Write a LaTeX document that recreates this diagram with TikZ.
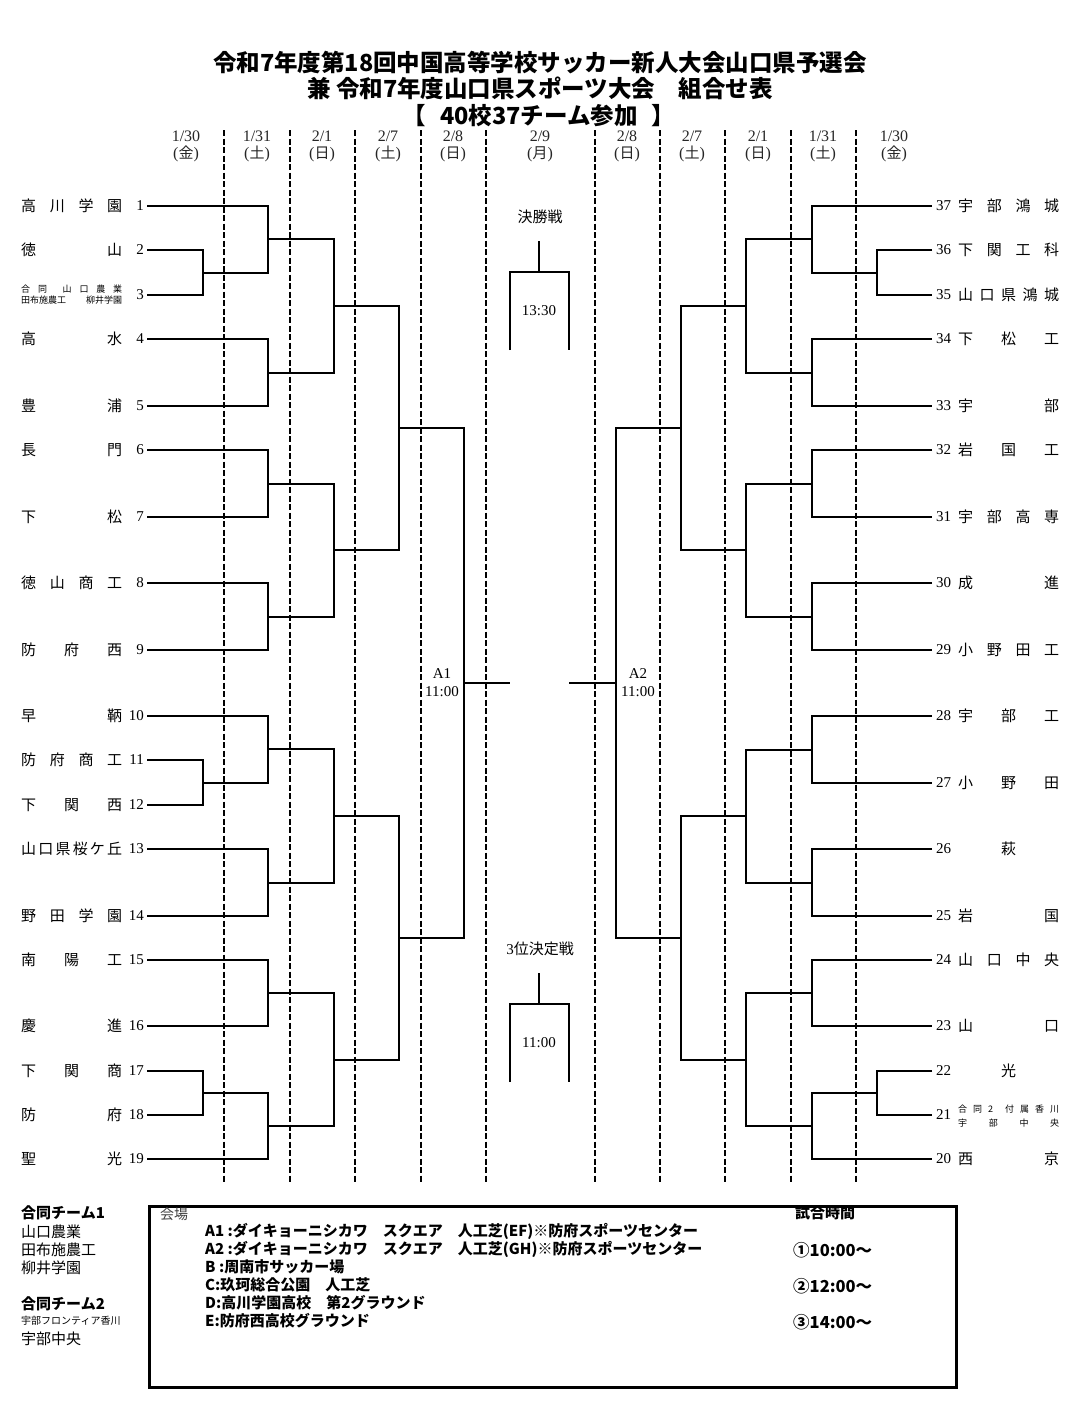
\documentclass[tikz,border=0pt]{standalone}
\usepackage{fontspec}
\setmainfont{Liberation Serif}
\newfontfamily\jp{Noto Sans CJK JP}
\newcommand\tmname[1]{\hbox to 101pt{#1}}
\begin{document}
\begin{tikzpicture}[x=1pt,y=-1pt,
  br/.style={line width=2pt},
  dsh/.style={line width=1.8pt, dash pattern=on 6pt off 2.5pt},
  lname/.style={anchor=west, inner sep=0pt, font=\jp\fontsize{15}{17}\selectfont},
  lnum/.style={anchor=east, inner sep=0pt, font=\fontsize{15}{17}\selectfont},
  rnum/.style={anchor=west, inner sep=0pt, font=\fontsize{15}{17}\selectfont},
  smalltxt/.style={anchor=west, inner sep=0pt, font=\jp\fontsize{9}{10}\selectfont},
  datet/.style={inner sep=0pt, text=black!85, font=\fontsize{16}{18}\selectfont},
  ttl/.style={inner sep=0pt, font=\jp\bfseries\fontsize{23.5}{25}\selectfont},
  lbl/.style={inner sep=0pt, font=\fontsize{15}{17}\selectfont},
  jlbl/.style={inner sep=0pt, font=\jp\fontsize{15}{17}\selectfont},
  nt/.style={anchor=west, inner sep=0pt, font=\jp\fontsize{15}{17}\selectfont},
  ntb/.style={anchor=west, inner sep=0pt, font=\jp\bfseries\fontsize{15}{17}\selectfont},
  tmt/.style={anchor=west, inner sep=0pt, font=\jp\bfseries\fontsize{16.5}{18}\selectfont},
  venue/.style={anchor=west, inner sep=0pt, font=\jp\bfseries\fontsize{15}{17}\selectfont}
]
\useasboundingbox (0,0) rectangle (1079,1424);
\fill[white] (0,0) rectangle (1079,1424);

% ---- title ----
\node[ttl] (ttlA) at (540,63) {令和7年度第18回中国高等学校サッカー新人大会山口県予選会};
\node[ttl] (ttlB) at (540,88) {兼 令和7年度山口県スポーツ大会　組合せ表};
\node[ttl] (ttlC) at (539,116) {【\hspace{14pt}40校37チーム参加\hspace{14pt}】};

% ---- dashed day separators ----
\foreach \x in {224,290,355,421,486,595,660,725,791,856}
  \draw[dsh] (\x,130) -- (\x,1183);

% ---- dates ----
\foreach \x/\d/\w [count=\i] in {186/1\slash 30/金, 257/1\slash 31/土, 322/2\slash 1/日, 388/2\slash 7/土, 453/2\slash 8/日, 540/2\slash 9/月, 627/2\slash 8/日, 692/2\slash 7/土, 758/2\slash 1/日, 823/1\slash 31/土, 894/1\slash 30/金}{
  \node[datet] (dt\i) at (\x,136) {\d};
  \node[datet] (dw\i) at (\x,154) {({\jp\fontsize{15}{17}\selectfont\w})};
}

% ---- left teams ----
\foreach \n/\y/\t in {1/206/{高\hfill 川\hfill 学\hfill 園}, 2/250/{徳\hfill 山}, 4/339/{高\hfill 水}, 5/406/{豊\hfill 浦}, 6/450/{長\hfill 門}, 7/517/{下\hfill 松}, 8/583/{徳\hfill 山\hfill 商\hfill 工}, 9/650/{防\hfill 府\hfill 西}, 10/716/{早\hfill 鞆}, 11/760/{防\hfill 府\hfill 商\hfill 工}, 12/805/{下\hfill 関\hfill 西}, 13/849/{山\hfill 口\hfill 県\hfill 桜\hfill ケ\hfill 丘}, 14/916/{野\hfill 田\hfill 学\hfill 園}, 15/960/{南\hfill 陽\hfill 工}, 16/1026/{慶\hfill 進}, 17/1071/{下\hfill 関\hfill 商}, 18/1115/{防\hfill 府}, 19/1159/{聖\hfill 光}}{
  \node[lname] (ln\n) at (21,\y) {\tmname{\t}};
}
\node[smalltxt] (ln3a) at (21,289) {\tmname{合\hfill 同\hfill\hfill 山\hfill 口\hfill 農\hfill 業}};
\node[smalltxt] (ln3b) at (21,300) {\tmname{田布施農工\hfill 柳井学園}};
\foreach \n/\y in {1/206,2/250,3/295,4/339,5/406,6/450,7/517,8/583,9/650,10/716,11/760,12/805,13/849,14/916,15/960,16/1026,17/1071,18/1115,19/1159}{
  \node[lnum] (lk\n) at (144,\y) {\n};
  \coordinate (t\n) at (147,\y);
}

% ---- right teams ----
\foreach \n/\y/\t in {37/206/{宇\hfill 部\hfill 鴻\hfill 城}, 36/250/{下\hfill 関\hfill 工\hfill 科}, 35/295/{山\hfill 口\hfill 県\hfill 鴻\hfill 城}, 34/339/{下\hfill 松\hfill 工}, 33/406/{宇\hfill 部}, 32/450/{岩\hfill 国\hfill 工}, 31/517/{宇\hfill 部\hfill 高\hfill 専}, 30/583/{成\hfill 進}, 29/650/{小\hfill 野\hfill 田\hfill 工}, 28/716/{宇\hfill 部\hfill 工}, 27/783/{小\hfill 野\hfill 田}, 26/849/{\hfill 萩\hfill}, 25/916/{岩\hfill 国}, 24/960/{山\hfill 口\hfill 中\hfill 央}, 23/1026/{山\hfill 口}, 22/1071/{\hfill 光\hfill}, 20/1159/{西\hfill 京}}{
  \node[lname] (rn\n) at (958,\y) {\tmname{\t}};
}
\node[smalltxt] (rn21a) at (958,1109) {\tmname{合\hfill 同\hfill 2\hfill\hfill 付\hfill 属\hfill 香\hfill 川}};
\node[smalltxt] (rn21b) at (958,1123) {\tmname{宇\hfill 部\hfill 中\hfill 央}};
\foreach \n/\y in {37/206,36/250,35/295,34/339,33/406,32/450,31/517,30/583,29/650,28/716,27/783,26/849,25/916,24/960,23/1026,22/1071,21/1115,20/1159}{
  \node[rnum] (rk\n) at (936,\y) {\n};
  \coordinate (t\n) at (932,\y);
}

% ---- left bracket ----
\coordinate (j23) at (203,272.5);
\coordinate (jA) at (268,239.25);
\coordinate (j45) at (268,372.5);
\coordinate (jB) at (334,305.9);
\coordinate (j67) at (268,483.5);
\coordinate (j89) at (268,616.5);
\coordinate (jC) at (334,550);
\coordinate (jD) at (399,428);
\coordinate (j1112) at (203,782.5);
\coordinate (jE) at (268,749.25);
\coordinate (j1314) at (268,882.5);
\coordinate (jF) at (334,815.9);
\coordinate (j1516) at (268,993);
\coordinate (j1718) at (203,1093);
\coordinate (jG) at (268,1126);
\coordinate (jH) at (334,1059.5);
\coordinate (jI) at (399,937.7);
\coordinate (jL) at (464,683);
\coordinate (fl) at (510,683);
\draw[br] (t2) -| (j23) |- (t3);
\draw[br] (t1) -| (jA) |- (j23);
\draw[br] (t4) -| (j45) |- (t5);
\draw[br] (jA) -| (jB) |- (j45);
\draw[br] (t6) -| (j67) |- (t7);
\draw[br] (t8) -| (j89) |- (t9);
\draw[br] (j67) -| (jC) |- (j89);
\draw[br] (jB) -| (jD) |- (jC);
\draw[br] (t11) -| (j1112) |- (t12);
\draw[br] (t10) -| (jE) |- (j1112);
\draw[br] (t13) -| (j1314) |- (t14);
\draw[br] (jE) -| (jF) |- (j1314);
\draw[br] (t15) -| (j1516) |- (t16);
\draw[br] (t17) -| (j1718) |- (t18);
\draw[br] (j1718) -| (jG) |- (t19);
\draw[br] (j1516) -| (jH) |- (jG);
\draw[br] (jF) -| (jI) |- (jH);
\draw[br] (jD) -| (jL) |- (jI);
\draw[br] (jL) -- (fl);

% ---- right bracket ----
\coordinate (r3635) at (877,272.5);
\coordinate (rA) at (812,239.25);
\coordinate (r3433) at (812,372.5);
\coordinate (rB) at (746,305.9);
\coordinate (r3231) at (812,483.5);
\coordinate (r3029) at (812,616.5);
\coordinate (rC) at (746,550);
\coordinate (rD) at (681,428);
\coordinate (r2827) at (812,749.5);
\coordinate (r2625) at (812,882.5);
\coordinate (rE) at (746,816);
\coordinate (r2423) at (812,993);
\coordinate (r2221) at (877,1093);
\coordinate (rG) at (812,1126);
\coordinate (rH) at (746,1059.5);
\coordinate (rI) at (681,937.7);
\coordinate (rL) at (616,683);
\coordinate (fr) at (569,683);
\draw[br] (t36) -| (r3635) |- (t35);
\draw[br] (t37) -| (rA) |- (r3635);
\draw[br] (t34) -| (r3433) |- (t33);
\draw[br] (rA) -| (rB) |- (r3433);
\draw[br] (t32) -| (r3231) |- (t31);
\draw[br] (t30) -| (r3029) |- (t29);
\draw[br] (r3231) -| (rC) |- (r3029);
\draw[br] (rB) -| (rD) |- (rC);
\draw[br] (t28) -| (r2827) |- (t27);
\draw[br] (t26) -| (r2625) |- (t25);
\draw[br] (r2827) -| (rE) |- (r2625);
\draw[br] (t24) -| (r2423) |- (t23);
\draw[br] (t22) -| (r2221) |- (t21);
\draw[br] (r2221) -| (rG) |- (t20);
\draw[br] (r2423) -| (rH) |- (rG);
\draw[br] (rE) -| (rI) |- (rH);
\draw[br] (rD) -| (rL) |- (rI);
\draw[br] (rL) -- (fr);

% ---- semi-final labels ----
\node[lbl] (a1n) at (442,674) {A1};
\node[lbl] (a1t) at (442,692) {11:00};
\node[lbl] (a2n) at (638,674) {A2};
\node[lbl] (a2t) at (638,692) {11:00};

% ---- final ----
\node[jlbl] (fin) at (540,217) {決勝戦};
\coordinate (fintop) at (539,241);
\coordinate (finmid) at (539,272);
\coordinate (finl) at (510,350);
\coordinate (finr) at (569,350);
\draw[br] (fintop) -- (finmid);
\draw[br] (finl) |- (finmid) -| (finr);
\node[lbl] (fint) at (539,311) {13:30};

% ---- third place ----
\node[jlbl] (thd) at (540,949) {{\fontspec{Liberation Serif}3}位決定戦};
\coordinate (thdtop) at (539,973);
\coordinate (thdmid) at (539,1004);
\coordinate (thdl) at (510,1082);
\coordinate (thdr) at (569,1082);
\draw[br] (thdtop) -- (thdmid);
\draw[br] (thdl) |- (thdmid) -| (thdr);
\node[lbl] (thdt) at (539,1043) {11:00};

% ---- notes ----
\node[ntb] (g1) at (21,1213) {合同チーム1};
\node[nt] (g1a) at (21,1232) {山口農業};
\node[nt] (g1b) at (21,1250) {田布施農工};
\node[nt] (g1c) at (21,1268) {柳井学園};
\node[ntb] (g2) at (21,1304) {合同チーム2};
\node[smalltxt, font=\jp\fontsize{10}{11}\selectfont] (g2a) at (21,1321) {宇部フロンティア香川};
\node[nt] (g2b) at (21,1339) {宇部中央};

% ---- venue box ----
\node[draw, line width=3pt, minimum width=807pt, minimum height=181pt, inner sep=0pt, anchor=north west] (vbox) at (148,1205) {};
\node[nt, text=black!75, font=\jp\fontsize{14}{16}\selectfont] (kaijo) at (160,1214) {会場};
\node[venue] (v1) at (205,1231) {A1 :ダイキョーニシカワ　スクエア　人工芝(EF)※防府スポーツセンター};
\node[venue] (v2) at (205,1249) {A2 :ダイキョーニシカワ　スクエア　人工芝(GH)※防府スポーツセンター};
\node[venue] (v3) at (205,1267) {B :周南市サッカー場};
\node[venue] (v4) at (205,1285) {C:玖珂総合公園　人工芝};
\node[venue] (v5) at (205,1303) {D:高川学園高校　第2グラウンド};
\node[venue] (v6) at (205,1321) {E:防府西高校グラウンド};
\node[ntb] (jikan) at (795,1213) {試合時間};
\node[tmt] (k1t) at (793,1250) {①10:00～};
\node[tmt] (k2t) at (793,1286) {②12:00～};
\node[tmt] (k3t) at (793,1322) {③14:00～};
\end{tikzpicture}
\end{document}
